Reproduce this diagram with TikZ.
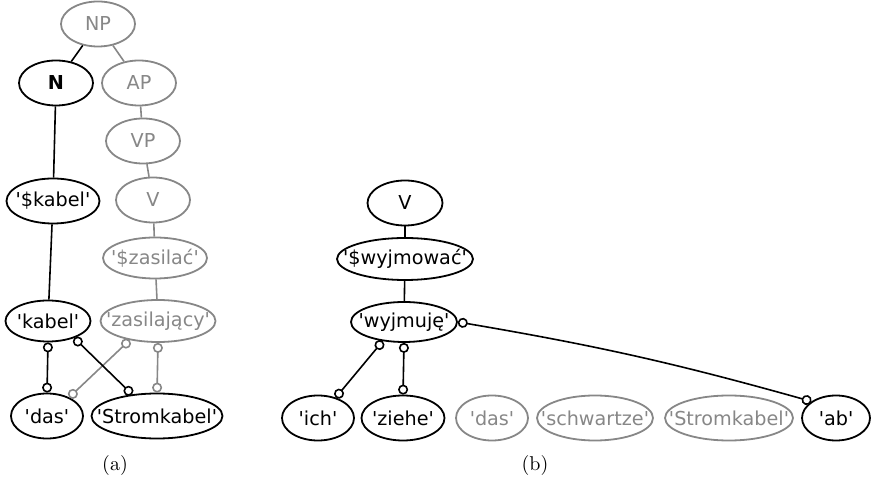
\documentclass[tikz,border=0pt]{standalone}
\usepackage{fontspec}
\newfontfamily\dvs{DejaVu Sans}
\usetikzlibrary{shapes.geometric, arrows.meta}
\definecolor{faint}{gray}{0.53}

\begin{document}
\begin{tikzpicture}[x=0.5pt, y=-0.5pt,
    tok/.style={ellipse, draw, line width=0.9pt, inner xsep=-8pt, inner ysep=0pt,
      minimum height=22.5pt, font=\dvs\fontsize{9.6}{11}\selectfont},
    pale/.style={draw=faint, text=faint},
    link/.style={line width=0.8pt},
    dep/.style={link, {Circle[open,length=5pt]}-{Circle[open,length=5pt]}}]
	\useasboundingbox (0,0) rectangle (871,485);
	
	% (a)
	\node[tok, pale, minimum width=37pt] (NP) at (98,24) {NP};
	\node[tok, minimum width=37pt] (N) at (56,83) {\bfseries N};
	\node[tok, pale, minimum width=37pt] (AP) at (139,83) {AP};
	\node[tok, pale, minimum width=37pt] (VP) at (143,141) {VP};
	\node[tok, pale, minimum width=37pt] (Va) at (153,200) {V};
	\node[tok, minimum width=46.5pt] (lexkabel) at (53,201) {'\$kabel'};
	\node[tok, pale, minimum width=52pt, minimum height=20.5pt] (lexzasilac) at (155,258) {'\$zasilać'};
	\node[tok, minimum width=42.5pt, minimum height=20.5pt] (kabel) at (48,321) {'kabel'};
	\node[tok, pale, minimum width=57.5pt, minimum height=21pt] (zasilajacy) at (158,321) {'zasilający'};
	\node[tok, minimum width=36pt] (dasa) at (47,416) {'das'};
	\node[tok, minimum width=65.5pt] (stroma) at (157,416) {'Stromkabel'};
	\node (capa) at (115,465) {(a)};
	
	\draw[link] (NP) -- (N);
	\draw[link, faint] (NP) -- (AP);
	\draw[link] (N) -- (lexkabel);
	\draw[link, faint] (AP) -- (VP);
	\draw[link, faint] (VP) -- (Va);
	\draw[link, faint] (Va) -- (lexzasilac);
	\draw[link, faint] (lexzasilac) -- (zasilajacy);
	\draw[link] (lexkabel) -- (kabel);
	\draw[dep, faint] (zasilajacy.-146) -- (dasa.40);
	\draw[dep, faint] (zasilajacy.south) -- (stroma.north);
	\draw[dep] (kabel.south) -- (dasa.north);
	\draw[dep] (kabel.-33) -- (stroma.139);
	
	% (b)
	\node[tok, minimum width=37.5pt] (Vb) at (405,203) {V};
	\node[tok, minimum width=68pt, minimum height=21pt] (lexwyjmowac) at (405,259) {'\$wyjmować'};
	\node[tok, minimum width=53pt, minimum height=20pt] (wyjmuje) at (404,322) {'wyjmuję'};
	\node[tok, minimum width=36pt] (ich) at (318,418) {'ich'};
	\node[tok, minimum width=41.5pt] (ziehe) at (403,418) {'ziehe'};
	\node[tok, pale, minimum width=36pt] (dasb) at (492,418) {'das'};
	\node[tok, pale, minimum width=58pt] (schwartze) at (595,418) {'schwartze'};
	\node[tok, pale, minimum width=64pt] (stromb) at (729,418) {'Stromkabel'};
	\node[tok, minimum width=34pt] (ab) at (836,418) {'ab'};
	\node (capb) at (535,465) {(b)};
	
	\draw[link] (Vb) -- (lexwyjmowac);
	\draw[link] (lexwyjmowac) -- (wyjmuje);
	\draw[dep] (wyjmuje.-138) -- (ich.49);
	\draw[dep] (wyjmuje.south) -- (ziehe.north);
	\draw[dep] (wyjmuje.east) to[bend left=3] (ab.146);
	
\end{tikzpicture}
\end{document}
